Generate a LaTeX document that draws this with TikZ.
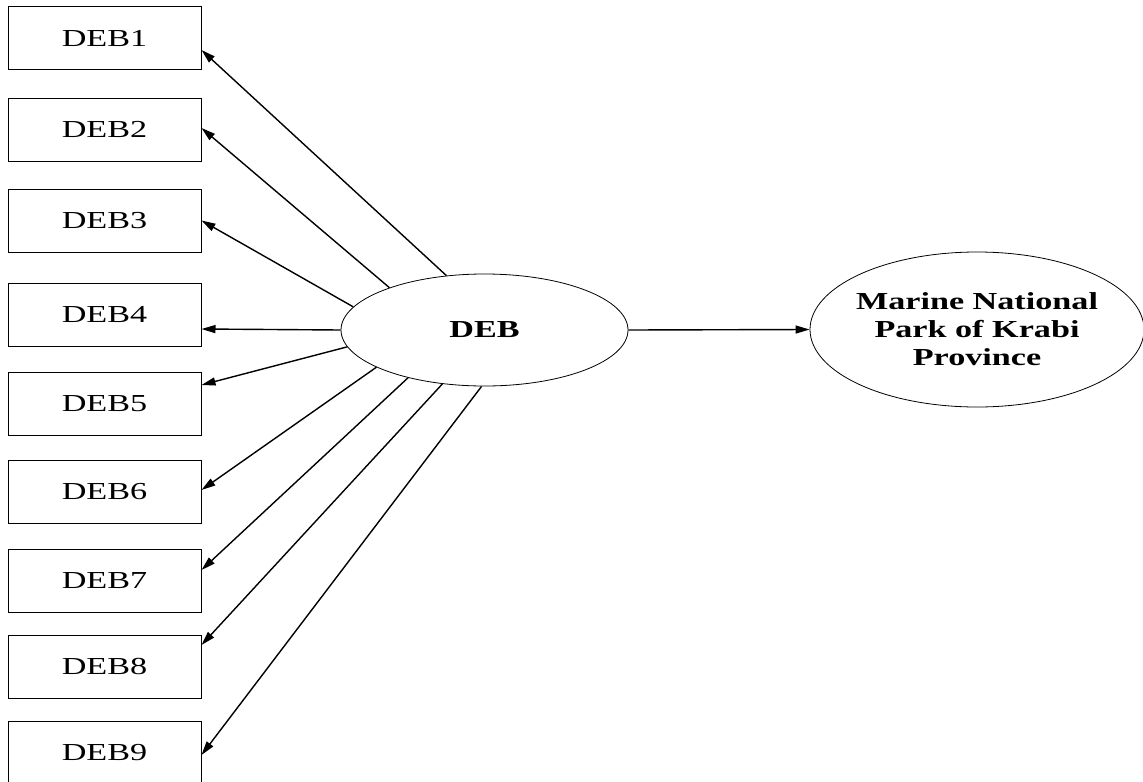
\documentclass[tikz,border=0pt]{standalone}
\usepackage{fontspec}
\setmainfont[FakeStretch=1.4]{Liberation Serif}
\usetikzlibrary{shapes.geometric,arrows.meta}

\begin{document}
\begin{tikzpicture}[x=0.5pt,y=-0.5pt,
  item/.style={draw=black,line width=0.5pt,minimum width=96.5pt,minimum height=31.5pt,inner sep=0pt,font=\fontsize{12.2}{14}\selectfont},
  latent/.style={draw=black,ellipse,line width=0.4pt,inner sep=0pt,align=center,font=\fontsize{12.2}{14}\selectfont\bfseries},
  arr/.style={line width=0.7pt,-{Triangle[length=7pt,width=4pt]}}]
\useasboundingbox (0,0) rectangle (1143,781);
\node [item] (deb1) at (104.5,38.5) {DEB1};
\node [item] (deb2) at (104.5,129.5) {DEB2};
\node [item] (deb3) at (104.5,220.5) {DEB3};
\node [item] (deb4) at (104.5,315) {DEB4};
\node [item] (deb5) at (104.5,403.5) {DEB5};
\node [item] (deb6) at (104.5,491.5) {DEB6};
\node [item] (deb7) at (104.5,580.5) {DEB7};
\node [item] (deb8) at (104.5,666.5) {DEB8};
\node [item] (deb9) at (104.5,752.5) {DEB9};
\node [latent,minimum width=143.5pt,minimum height=56pt] (deb) at (484.5,330) {DEB};
\node [latent,inner xsep=-3pt,minimum width=167pt,minimum height=77.5pt] (park) at (977,329.5) {Marine National\\Park of Krabi\\Province};
% loadings
\draw [arr] (deb.125) -- ([yshift=-5.75pt]deb1.east);
\draw [arr] (deb.156.7) -- ([yshift=0.75pt]deb2.east);
\draw [arr] (deb.170) -- (deb3.east);
\draw [arr] (deb.180) -- ([yshift=-7pt]deb4.east);
\draw [arr] (deb.187.5) -- ([yshift=9.25pt]deb5.east);
\draw [arr] (deb.199) -- ([yshift=0.75pt]deb6.east);
\draw [arr] (deb.212) -- ([yshift=5.25pt]deb7.east);
\draw [arr] (deb.232) -- ([yshift=10.75pt]deb8.east);
\draw [arr] (deb.267.5) -- ([yshift=-1.25pt]deb9.east);
% path
\draw [arr] (deb.east) -- (park.west);
\end{tikzpicture}
\end{document}
